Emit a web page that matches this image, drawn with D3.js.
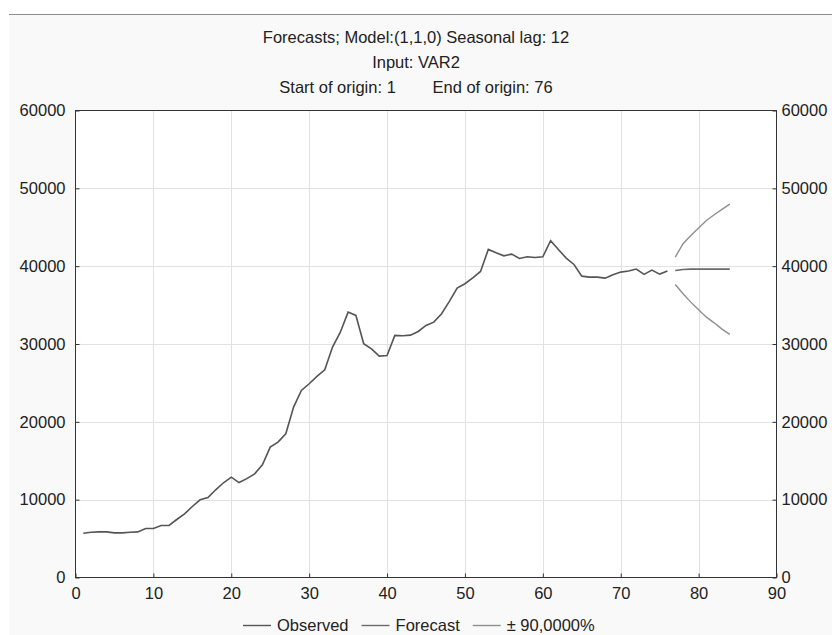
<!DOCTYPE html>
<html>
<head>
<meta charset="utf-8">
<script src="https://cdn.jsdelivr.net/npm/d3@7"></script>
<style>
	html, body { margin: 0; padding: 0; background: #fff; }
	svg text { font-family: "Liberation Sans", Arial, sans-serif; fill: #222; }
</style>
</head>
<body>
<div id="chart"></div>
<script>
// observed series, t = 1..76
const observed = [
	5690, 5820, 5860, 5860, 5730, 5730, 5820, 5860, 6300, 6300,
	6680, 6680, 7450, 8180, 9120, 9980, 10280, 11270, 12170, 12890,
	12200, 12700, 13320, 14480, 16750, 17390, 18460, 21890, 24030, 24890,
	25830, 26690, 29600, 31520, 34100, 33670, 30030, 29380, 28440, 28530,
	31100, 31060, 31140, 31610, 32380, 32810, 33880, 35470, 37180, 37740,
	38510, 39320, 42150, 41720, 41330, 41550, 40990, 41210, 41120, 41210,
	43280, 42150, 41030, 40220, 38720, 38590, 38590, 38460, 38890, 39240,
	39370, 39630, 38940, 39490, 38980, 39370
];
// forecast, t = 77..84
const forecastStart = 77;
const forecast = [39450, 39580, 39620, 39620, 39620, 39620, 39620, 39620];
const upper = [41160, 42880, 43950, 44890, 45870, 46600, 47290, 47980];
const lower = [37650, 36450, 35380, 34400, 33450, 32720, 31910, 31230];

const titleLines = [
	'Forecasts; Model:(1,1,0) Seasonal lag: 12',
	'Input: VAR2',
	'Start of origin: 1        End of origin: 76'
];
const xTicks = [0, 10, 20, 30, 40, 50, 60, 70, 80, 90];
const yTicks = [0, 10000, 20000, 30000, 40000, 50000, 60000];
const legendItems = [
	{ label: 'Observed', color: '#555' },
	{ label: 'Forecast', color: '#6a6a6a' },
	{ label: '\u00b1 90,0000%', color: '#8f8f8f' }
];

const W = 832, H = 635;
const FS = '16.5px';
const plot = { left: 75.5, right: 776.5, top: 110.5, bottom: 577.5 };

const svg = d3.select('#chart').append('svg')
	.attr('width', W)
	.attr('height', H)
	.attr('viewBox', `0 0 ${W} ${H}`);

// window panel
svg.append('rect')
	.attr('x', 9).attr('y', 14)
	.attr('width', W - 9).attr('height', H - 14)
	.attr('fill', '#f9f9f9');
svg.append('line')
	.attr('x1', 9).attr('x2', W)
	.attr('y1', 14.5).attr('y2', 14.5)
	.attr('stroke', '#8c8c8c');

const x = d3.scaleLinear().domain([0, 90]).range([plot.left, plot.right]);
const y = d3.scaleLinear().domain([0, 60000]).range([plot.bottom, plot.top]);

svg.append('rect')
	.attr('x', plot.left).attr('y', plot.top)
	.attr('width', plot.right - plot.left)
	.attr('height', plot.bottom - plot.top)
	.attr('fill', '#fff');

// grid
const grid = svg.append('g');
grid.selectAll('.gx')
	.data(xTicks.slice(1, -1))
	.enter()
	.append('line')
	.attr('x1', d => Math.round(x(d)) + 0.5).attr('x2', d => Math.round(x(d)) + 0.5)
	.attr('y1', plot.top).attr('y2', plot.bottom)
	.attr('stroke', '#e2e2e2');
grid.selectAll('.gy')
	.data(yTicks.slice(1, -1))
	.enter()
	.append('line')
	.attr('y1', d => Math.round(y(d)) + 0.5).attr('y2', d => Math.round(y(d)) + 0.5)
	.attr('x1', plot.left).attr('x2', plot.right)
	.attr('stroke', '#e2e2e2');

// axes (ticks pointing inward)
const axisStyle = g => {
	g.select('.domain').remove();
	g.selectAll('.tick line').attr('stroke', '#333');
	g.selectAll('.tick text').style('font-size', FS).attr('fill', '#222');
};
svg.append('g')
	.attr('transform', `translate(0,${plot.bottom})`)
	.call(d3.axisBottom(x).tickValues(xTicks).tickFormat(d3.format('d')).tickSizeInner(-4).tickPadding(10))
	.call(axisStyle);
svg.append('g')
	.attr('transform', `translate(${plot.left},0)`)
	.call(d3.axisLeft(y).tickValues(yTicks).tickFormat(d3.format('d')).tickSizeInner(-4).tickPadding(10))
	.call(axisStyle);
svg.append('g')
	.attr('transform', `translate(${plot.right},0)`)
	.call(d3.axisRight(y).tickValues(yTicks).tickFormat(d3.format('d')).tickSizeInner(-4).tickPadding(5))
	.call(axisStyle);

svg.append('rect')
	.attr('x', plot.left).attr('y', plot.top)
	.attr('width', plot.right - plot.left)
	.attr('height', plot.bottom - plot.top)
	.attr('fill', 'none')
	.attr('stroke', '#333');

// series
const line = d3.line().x(d => x(d[0])).y(d => y(d[1]));
const toPts = (arr, start) => arr.map((v, i) => [start + i, v]);

svg.append('path')
	.attr('d', line(toPts(observed, 1)))
	.attr('fill', 'none').attr('stroke', legendItems[0].color).attr('stroke-width', 1.6);
svg.append('path')
	.attr('d', line(toPts(forecast, forecastStart)))
	.attr('fill', 'none').attr('stroke', legendItems[1].color).attr('stroke-width', 1.6);
[upper, lower].forEach(arr => {
	svg.append('path')
		.attr('d', line(toPts(arr, forecastStart)))
		.attr('fill', 'none').attr('stroke', legendItems[2].color).attr('stroke-width', 1.4);
});

// title
svg.selectAll('.title')
	.data(titleLines)
	.enter()
	.append('text')
	.attr('x', 416)
	.attr('y', (d, i) => 43 + i * 25)
	.attr('text-anchor', 'middle')
	.style('font-size', FS)
	.style('white-space', 'pre')
	.attr('xml:space', 'preserve')
	.text(d => d);

// legend
const lg = svg.append('g').attr('transform', 'translate(0,631)');
let lx = 243;
legendItems.forEach(item => {
	lg.append('line')
		.attr('x1', lx).attr('x2', lx + 28)
		.attr('y1', -5.5).attr('y2', -5.5)
		.attr('stroke', item.color).attr('stroke-width', 1.4);
	const t = lg.append('text')
		.attr('x', lx + 34).attr('y', 0)
		.style('font-size', FS)
		.text(item.label);
	lx += 34 + t.node().getComputedTextLength() + 13;
});
</script>
</body>
</html>
